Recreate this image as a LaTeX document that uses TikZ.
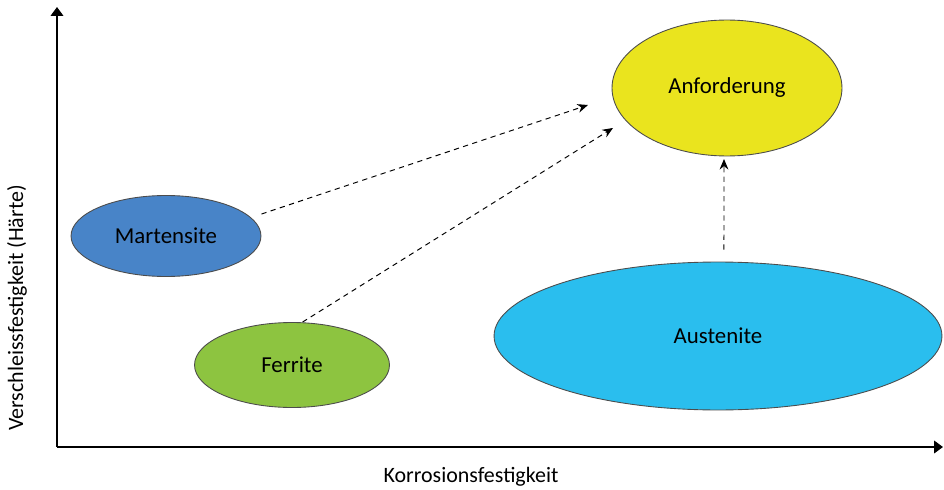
\documentclass[tikz,border=0pt]{standalone}
\usepackage{fontspec}
\setmainfont{Carlito}
\usetikzlibrary{shapes.geometric,arrows.meta}
\definecolor{martblue}{RGB}{72,132,200}
\definecolor{ferrgreen}{RGB}{141,196,64}
\definecolor{austcyan}{RGB}{42,190,238}
\definecolor{anfyellow}{RGB}{234,228,30}
\tikzset{
  phase/.style={ellipse, draw=black!70, line width=0.5pt, inner sep=0pt, font=\fontsize{13}{15}\selectfont},
  pfeil/.style={-{Stealth[length=6pt,width=5pt]}, line width=0.55pt, dash pattern=on 3pt off 2.5pt},
  achse/.style={-{Triangle[length=5pt,width=7pt]}, line width=1.2pt}
}
\begin{document}
\begin{tikzpicture}[x=0.02cm, y=-0.02cm, font=\fontsize{12.5}{15}\selectfont, line join=round]
				\useasboundingbox (0,0) rectangle (944,490);
				% Achsen
				\coordinate (o) at (57,447);
				\coordinate (ytop) at (57,7);
				\coordinate (xend) at (943,447);
				\draw[achse] (o) -- (ytop);
				\draw[achse] (o) -- (xend);
				\node[rotate=90] (ylab) at (17,308) {Verschleissfestigkeit (Härte)};
				\node (xlab) at (471,477) {Korrosionsfestigkeit};
				% Phasen
				\node[phase, fill=martblue, minimum width=3.8cm, minimum height=1.62cm] (mart) at (166,236) {Martensite};
				\node[phase, fill=ferrgreen, minimum width=3.9cm, minimum height=1.7cm] (ferr) at (292,365) {Ferrite};
				\node[phase, fill=austcyan, minimum width=8.96cm, minimum height=2.96cm] (aust) at (718,336) {Austenite};
				\node[phase, fill=anfyellow, minimum width=4.6cm, minimum height=2.72cm] (anf) at (727,88) {Anforderung};
				% Pfeile
				\coordinate (pm) at (588,105);
				\coordinate (pf) at (613,128);
				\coordinate (pa) at (724,159);
				\draw[pfeil] ([yshift=12.5pt]mart.east) -- (pm);
				\draw[pfeil] ([xshift=6pt]ferr.north) -- (pf);
				\draw[pfeil] ([xshift=3.4pt,yshift=6.8pt]aust.north) -- (pa);
			\end{tikzpicture}
\end{document}
